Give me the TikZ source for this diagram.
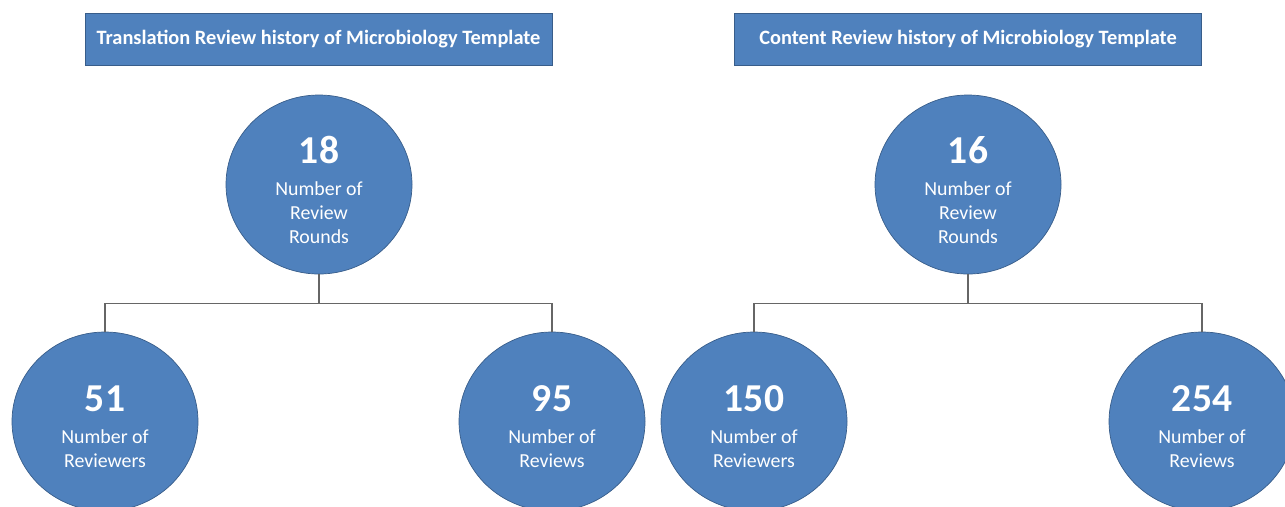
\documentclass[tikz,border=0pt]{standalone}
\usepackage{fontspec}
\setmainfont{Carlito}
\usepackage{xcolor}
\usetikzlibrary{shapes.geometric,calc}
\definecolor{boxblue}{RGB}{79,129,189}
\definecolor{boxedge}{RGB}{56,93,138}
\newcommand{\bignum}[1]{{\fontsize{22.5}{26}\selectfont\bfseries #1}\\[4.6pt]}

\begin{document}
\begin{tikzpicture}[font=\fontsize{11.3}{13.6}\selectfont,
     hd/.style={draw=boxedge,fill=boxblue,text=white,font=\fontsize{11.6}{13}\selectfont\bfseries,minimum width=9.34cm,minimum height=1.04cm,inner sep=0pt},
     cb/.style={ellipse,draw=boxedge,fill=boxblue,minimum width=3.72cm,minimum height=3.58cm,inner sep=0pt},
     nt/.style={text=white,align=center,inner sep=0pt,yshift=-0.11cm},
     ln/.style={draw=black!60,line width=0.8pt}]
    \useasboundingbox (0,0) rectangle (25.7,-10.12);
    \clip (0,0) rectangle (25.7,-10.12);
    % headers
    \node[hd] (h1) at (6.37,-0.78)  {Translation Review history of Microbiology Template};
    \node[hd] (h2) at (19.36,-0.78) {Content Review history of Microbiology Template};
    % translation tree
    \node[cb] (t1) at (6.38,-3.69)  {};
    \node[cb] (a1) at (2.10,-8.43)  {};
    \node[cb] (b1) at (11.04,-8.43) {};
    \node[nt] (t1txt) at (t1) {\bignum{18}Number of\\ Review\\ Rounds};
    \node[nt] (a1txt) at (a1) {\bignum{51}Number of\\ Reviewers};
    \node[nt] (b1txt) at (b1) {\bignum{95}Number of\\ Reviews};
    \draw[ln] (t1.south) -- ++(0,-0.58) -| (a1.north);
    \draw[ln] (t1.south) -- ++(0,-0.58) -| (b1.north);
    % content tree
    \node[cb] (t2) at (19.36,-3.69) {};
    \node[cb] (a2) at (15.08,-8.43) {};
    \node[cb] (b2) at (24.04,-8.43) {};
    \node[nt] (t2txt) at (t2) {\bignum{16}Number of\\ Review\\ Rounds};
    \node[nt] (a2txt) at (a2) {\bignum{150}Number of\\ Reviewers};
    \node[nt] (b2txt) at (b2) {\bignum{254}Number of\\ Reviews};
    \draw[ln] (t2.south) -- ++(0,-0.58) -| (a2.north);
    \draw[ln] (t2.south) -- ++(0,-0.58) -| (b2.north);
  \end{tikzpicture}
\end{document}
